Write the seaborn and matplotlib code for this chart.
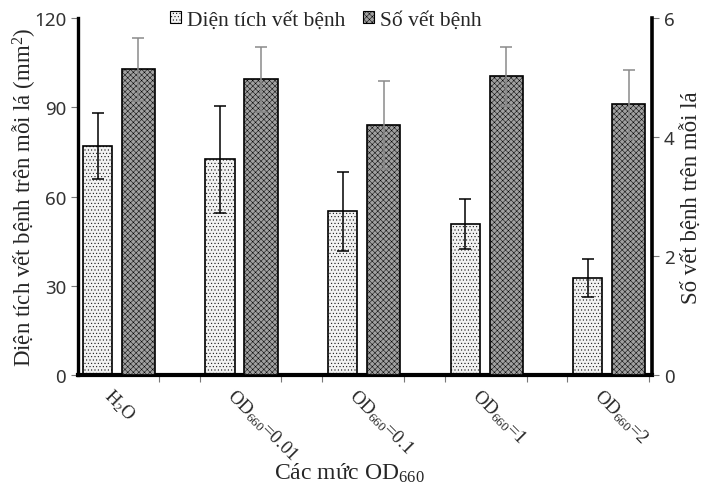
import pandas as pd
import seaborn as sns
import matplotlib.pyplot as plt
from matplotlib.patches import Patch

# Số liệu
categories = ['H2O', 'OD=0.01', 'OD=0.1', 'OD=1', 'OD=2']
tick_labels = ['H$_2$O', 'OD$_{660}$=0.01', 'OD$_{660}$=0.1', 'OD$_{660}$=1', 'OD$_{660}$=2']
area_mean = [77.0, 72.5, 55.0, 50.8, 32.5]
area_err = [11.2, 18.0, 13.4, 8.3, 6.4]
count_mean = [5.14, 4.97, 4.21, 5.02, 4.55]
count_err = [0.53, 0.55, 0.74, 0.49, 0.58]

series_order = ['area', 'count', 'pad']
palette = {'area': '#f2f2f2', 'count': '#a0a0a0', 'pad': 'white'}


def build_frame(series, values):
    # các nhóm hue khác để giữ chỗ (giá trị 0, sẽ bỏ đi sau)
    rows = []
    for cat, val in zip(categories, values):
        for s in series_order:
            rows.append({'cat': cat, 'series': s, 'value': val if s == series else 0.0})
    return pd.DataFrame(rows)


def drop_placeholders(ax):
    for p in list(ax.patches):
        if p.get_height() == 0:
            p.remove()


def add_errors(ax, errors, color):
    bars = sorted(ax.patches, key=lambda p: p.get_x())
    xs = [p.get_x() + p.get_width() / 2 for p in bars]
    ys = [p.get_height() for p in bars]
    ax.errorbar(xs, ys, yerr=errors, fmt='none', ecolor=color, elinewidth=1.1,
                capsize=4.5, capthick=1.1, zorder=5)


def draw(area_df, count_df):
    sns.set_style('white')
    plt.rcParams['font.family'] = ['Liberation Serif', 'DejaVu Serif']
    plt.rcParams['mathtext.fontset'] = 'custom'
    plt.rcParams['mathtext.rm'] = 'Liberation Serif'
    plt.rcParams['mathtext.it'] = 'Liberation Serif:italic'
    plt.rcParams['hatch.linewidth'] = 0.35

    fig = plt.figure(figsize=(7.02, 4.89), dpi=100)
    ax = fig.add_axes([0.111, 0.231, 0.818, 0.730])
    ax2 = ax.twinx()

    sns.barplot(data=area_df, x='cat', y='value', hue='series', hue_order=series_order,
                order=categories, palette=palette, width=1.0, gap=0.28, errorbar=None,
                edgecolor='black', linewidth=1.2, legend=False, ax=ax)
    sns.barplot(data=count_df, x='cat', y='value', hue='series', hue_order=series_order,
                order=categories, palette=palette, width=1.0, gap=0.19, errorbar=None,
                edgecolor='black', linewidth=1.2, legend=False, ax=ax2)
    drop_placeholders(ax)
    drop_placeholders(ax2)

    for p in ax.patches:
        p.set_hatch('.....')
    for p in ax2.patches:
        p.set_hatch('xxxxxx')

    add_errors(ax, area_err, 'black')
    add_errors(ax2, count_err, '#8a8a8a')

    ax.set_xlim(-0.494, 4.192)
    ax.set_ylim(0, 120)
    ax2.set_ylim(0, 6)
    ax.set_yticks([0, 30, 60, 90, 120])
    ax2.set_yticks([0, 2, 4, 6])

    # nhãn trục x
    pos = [i - 0.2 for i in range(len(categories))]
    ax.set_xticks(pos)
    ax.set_xticklabels(tick_labels, rotation=-45, ha='left', va='top',
                       rotation_mode='anchor', fontsize=13.5)
    ax.tick_params(axis='x', length=0, pad=7)
    minor = [i + 0.5 for i in range(4)] + [i + 0.167 for i in range(5)]
    ax.set_xticks(minor, minor=True)
    ax.tick_params(axis='x', which='minor', length=5, width=0.8, color='#777777',
                   direction='out', bottom=True)

    for a in (ax, ax2):
        a.tick_params(axis='y', length=5, width=0.8, color='#777777', direction='out')
        for lbl in a.get_yticklabels():
            lbl.set_family('Noto Sans')
            lbl.set_fontsize(13.5)
            lbl.set_color('#333333')

    ax.tick_params(axis='y', left=True, right=False)
    ax2.tick_params(axis='y', right=True, left=False)

    for s in ['top', 'right']:
        ax.spines[s].set_visible(False)
    for s in ['top', 'left', 'bottom']:
        ax2.spines[s].set_visible(False)
    ax.spines['left'].set_linewidth(2.4)
    ax.spines['bottom'].set_linewidth(3.0)
    ax2.spines['right'].set_linewidth(2.6)
    for s in ['left', 'bottom']:
        ax.spines[s].set_color('black')
    ax2.spines['right'].set_color('black')

    ax.set_xlabel('Các mức OD$_{660}$', fontsize=17)
    ax.xaxis.set_label_coords(0.472, -0.24)
    ax.set_ylabel('Diện tích vết bệnh trên mỗi lá (mm$^2$)', fontsize=16.5)
    ax.yaxis.set_label_coords(-0.068, 0.5)
    ax2.set_ylabel('Số vết bệnh trên mỗi lá', fontsize=16.5)
    ax2.yaxis.set_label_coords(1.052, 0.5)

    handles = [Patch(facecolor=palette['area'], edgecolor='black', hatch='.....', linewidth=0.8),
               Patch(facecolor=palette['count'], edgecolor='black', hatch='xxxxxx', linewidth=0.8)]
    ax.legend(handles, ['Diện tích vết bệnh', 'Số vết bệnh'], loc='center',
              bbox_to_anchor=(0.432, 0.995), ncol=2, frameon=False, fontsize=15.5,
              handlelength=0.5, handleheight=0.5, handletextpad=0.3, columnspacing=0.8)

    fig.savefig('out.png', dpi=100)
    plt.close(fig)


def main():
    area_df = build_frame('area', area_mean)
    count_df = build_frame('count', count_mean)
    draw(area_df, count_df)


if __name__ == '__main__':
    main()
